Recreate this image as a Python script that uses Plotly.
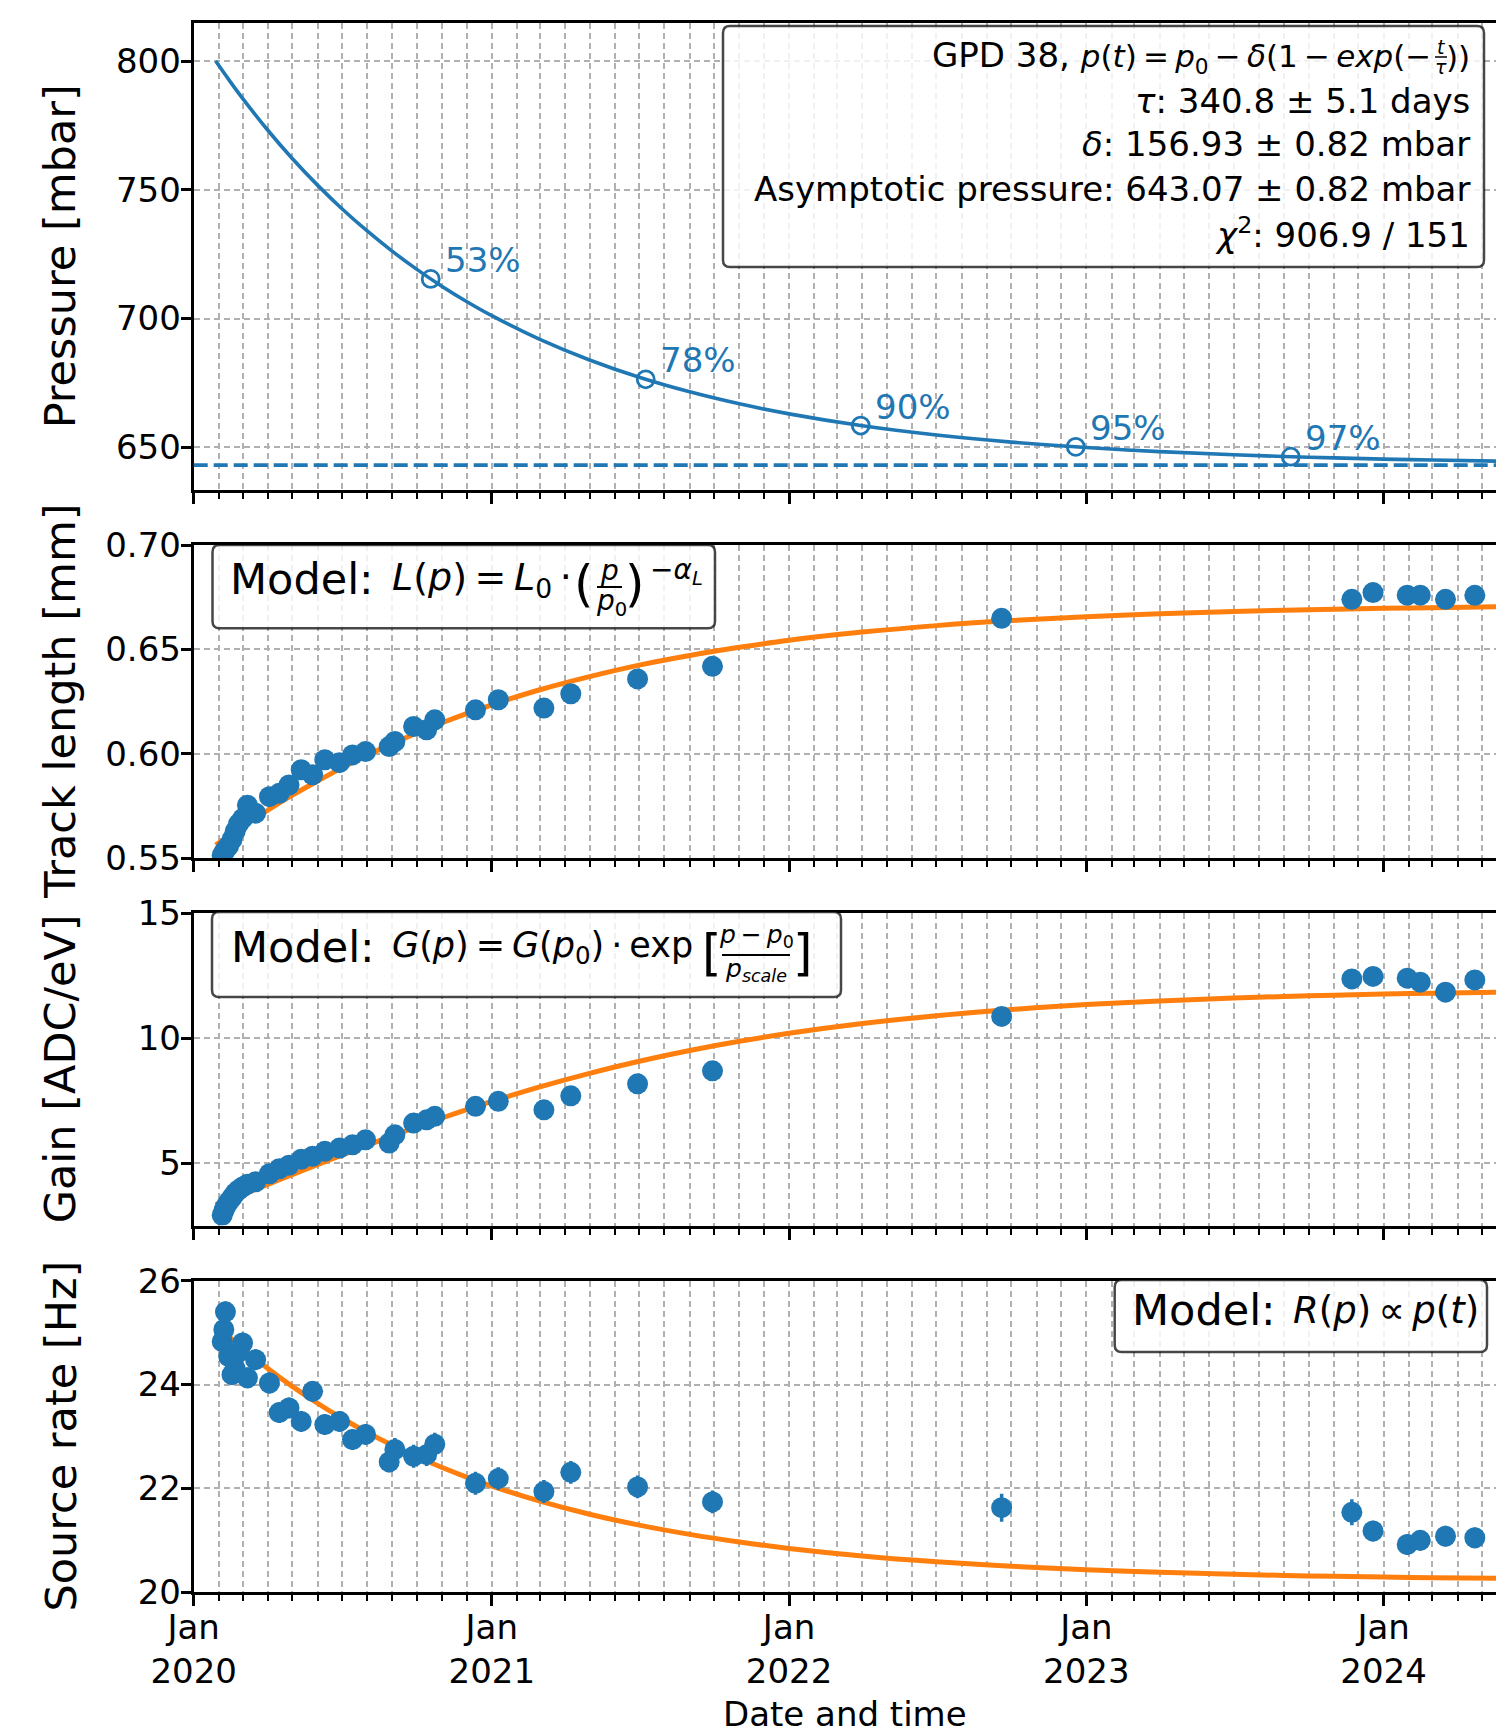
import plotly.graph_objects as go

# ---------------- data ----------------
x_range = ["2020-01-01", "2024-05-18"]
year_ticks = ["2020-01-01", "2021-01-01", "2022-01-01", "2023-01-01", "2024-01-01"]
year_tick_text = ["Jan<br>2020", "Jan<br>2021", "Jan<br>2022", "Jan<br>2023", "Jan<br>2024"]

# fitted model curves, sampled along the time axis
curve_dates = ["2020-01-28", "2020-02-15", "2020-03-01", "2020-04-01", "2020-05-01", "2020-06-01",
               "2020-07-01", "2020-08-01", "2020-09-01", "2020-10-01", "2020-11-01", "2020-12-01",
               "2021-01-01", "2021-03-01", "2021-05-01", "2021-07-01", "2021-09-01", "2021-11-01",
               "2022-01-01", "2022-04-01", "2022-07-01", "2022-10-01", "2023-01-01", "2023-04-01",
               "2023-07-01", "2023-10-01", "2024-01-01", "2024-03-01", "2024-05-20"]
pressure_fit = [800.00, 791.93, 785.52, 773.13, 762.17, 751.82, 742.65, 734.00, 726.09, 719.09,
                712.48, 706.63, 701.11, 691.88, 683.88, 677.19, 671.52, 666.86, 662.96, 658.34,
                654.76, 652.00, 649.88, 648.30, 647.08, 646.13, 645.41, 645.03, 644.62]
length_fit = [0.5564, 0.5613, 0.5652, 0.5730, 0.5802, 0.5870, 0.5933, 0.5993, 0.6049, 0.6100,
              0.6149, 0.6193, 0.6235, 0.6307, 0.6370, 0.6425, 0.6471, 0.6510, 0.6544, 0.6583,
              0.6614, 0.6638, 0.6657, 0.6671, 0.6682, 0.6690, 0.6697, 0.6700, 0.6704]
gain_fit = [3.330, 3.557, 3.748, 4.147, 4.535, 4.935, 5.318, 5.707, 6.088, 6.446,
            6.803, 7.136, 7.465, 8.049, 8.592, 9.075, 9.505, 9.873, 10.193, 10.584,
            10.898, 11.147, 11.341, 11.488, 11.603, 11.694, 11.763, 11.799, 11.839]
rate_fit = [25.154, 24.901, 24.699, 24.310, 23.965, 23.640, 23.351, 23.079, 22.830, 22.610,
            22.403, 22.219, 22.045, 21.755, 21.503, 21.293, 21.115, 20.968, 20.845, 20.700,
            20.588, 20.501, 20.434, 20.385, 20.346, 20.316, 20.294, 20.282, 20.269]
asymptotic_pressure = 643.07

marker_dates = ["2020-10-18", "2021-07-09", "2022-03-30", "2022-12-19", "2023-09-09"]
marker_pressure = [715.40, 676.40, 658.43, 650.15, 646.33]
marker_labels = ["53%", "78%", "90%", "95%", "97%"]

# measurements
run_dates = ["2020-02-05", "2020-02-07", "2020-02-09", "2020-02-13", "2020-02-17", "2020-02-21",
             "2020-02-25", "2020-03-01", "2020-03-07", "2020-03-17", "2020-04-03", "2020-04-15",
             "2020-04-27", "2020-05-12", "2020-05-26", "2020-06-10", "2020-06-28", "2020-07-14",
             "2020-07-30", "2020-08-28", "2020-09-04", "2020-09-27", "2020-10-13", "2020-10-23",
             "2020-12-12", "2021-01-09", "2021-03-06", "2021-04-08", "2021-06-29", "2021-09-29",
             "2022-09-19", "2023-11-23", "2023-12-19", "2024-01-30", "2024-02-15", "2024-03-17",
             "2024-04-22"]
track_length = [0.5515, 0.5528, 0.5540, 0.5560, 0.5590, 0.5630, 0.5665, 0.5690, 0.5754, 0.5716,
                0.5795, 0.5811, 0.5851, 0.5924, 0.5900, 0.5972, 0.5958, 0.5995, 0.6011, 0.6035,
                0.6059, 0.6131, 0.6115, 0.6163, 0.6211, 0.6259, 0.6219, 0.6288, 0.6359, 0.6419,
                0.6649, 0.6740, 0.6772, 0.6760, 0.6760, 0.6740, 0.6759]
gain = [2.91, 3.10, 3.24, 3.45, 3.62, 3.80, 3.92, 4.04, 4.15, 4.25,
        4.57, 4.77, 4.91, 5.15, 5.27, 5.47, 5.60, 5.73, 5.93, 5.80,
        6.13, 6.60, 6.73, 6.87, 7.27, 7.47, 7.13, 7.69, 8.17, 8.69,
        10.87, 12.37, 12.47, 12.40, 12.24, 11.84, 12.33]
source_rate = [24.83, 25.06, 25.40, 24.54, 24.19, 24.30, 24.62, 24.80, 24.13, 24.48,
               24.03, 23.46, 23.55, 23.29, 23.87, 23.23, 23.29, 22.94, 23.04, 22.51,
               22.75, 22.62, 22.65, 22.85, 22.10, 22.19, 21.94, 22.31, 22.03, 21.74,
               21.63, 21.54, 21.18, 20.92, 21.00, 21.08, 21.05]
source_rate_err = [0.20, 0.20, 0.20, 0.20, 0.20, 0.20, 0.20, 0.20, 0.20, 0.20,
                   0.20, 0.20, 0.20, 0.20, 0.20, 0.20, 0.20, 0.20, 0.20, 0.20,
                   0.22, 0.22, 0.22, 0.22, 0.22, 0.22, 0.22, 0.22, 0.22, 0.22,
                   0.27, 0.25, 0.20, 0.20, 0.20, 0.20, 0.20]

y_titles = ["Pressure [mbar]", "Track length [mm]", "Gain [ADC/eV]", "Source rate [Hz]"]
y_ranges = [[633.4, 814.9], [0.55, 0.70], [2.5, 15], [20, 26]]
y_tickvals = [[650, 700, 750, 800], [0.55, 0.60, 0.65, 0.70], [5, 10, 15], [20, 22, 24, 26]]
y_ticktext = [["650", "700", "750", "800"], ["0.55", "0.60", "0.65", "0.70"],
              ["5", "10", "15"], ["20", "22", "24", "26"]]

# ---------------- styling / layout ----------------
W, H = 1496, 1736
BLUE = "#1f77b4"
ORANGE = "#ff7f0e"
FONT = "DejaVu Sans"
GRID = "#b0b0b0"
TICK_FS = 34
LABEL_FS = 43
left_px = 193.7
panels_px = [(22.7, 490.0), (545.0, 858.3), (913.2, 1225.5), (1280.7, 1592.3)]


def px_x(x):
    return x / W


def px_y(y):
    return 1 - y / H


fig = go.Figure()

# panel 1
fig.add_trace(go.Scatter(x=curve_dates, y=pressure_fit, mode="lines",
                         line=dict(color=BLUE, width=3.6, shape="spline"),
                         xaxis="x", yaxis="y", showlegend=False))
fig.add_trace(go.Scatter(x=marker_dates, y=marker_pressure, mode="markers",
                         marker=dict(symbol="circle-open", size=17, color=BLUE,
                                     line=dict(color=BLUE, width=2.8)),
                         xaxis="x", yaxis="y", showlegend=False))
fig.add_shape(type="line", xref="x domain", yref="y", x0=0, x1=1,
              y0=asymptotic_pressure, y1=asymptotic_pressure,
              line=dict(color=BLUE, width=3.6, dash="14px,6px"), layer="above")

# panels 2-4
for i, (fit, meas) in enumerate([(length_fit, track_length), (gain_fit, gain), (rate_fit, source_rate)]):
    ax = str(i + 2)
    fig.add_trace(go.Scatter(x=curve_dates, y=fit, mode="lines",
                             line=dict(color=ORANGE, width=5, shape="spline"),
                             xaxis="x" + ax, yaxis="y" + ax, showlegend=False))
    err = None
    if i == 2:
        err = dict(type="data", array=source_rate_err, visible=True, thickness=3.5, width=0, color=BLUE)
    fig.add_trace(go.Scatter(x=run_dates, y=meas, mode="markers",
                             marker=dict(size=21, color=BLUE, line=dict(width=0)),
                             error_y=err,
                             xaxis="x" + ax, yaxis="y" + ax, showlegend=False))

layout = dict(width=W, height=H, margin=dict(l=0, r=0, t=0, b=0, autoexpand=False),
              paper_bgcolor="white", plot_bgcolor="white",
              font=dict(family=FONT, color="black", size=TICK_FS), showlegend=False)

for i, (top, bot) in enumerate(panels_px):
    sfx = "" if i == 0 else str(i + 1)
    last = (i == 3)
    layout["xaxis" + sfx] = dict(
        domain=[px_x(left_px), 1.0], range=x_range, type="date", anchor="y" + sfx,
        automargin=False,
        showline=True, linecolor="black", linewidth=3, mirror=True,
        ticks="outside", ticklen=11, tickwidth=2.5, tickcolor="black",
        tickmode="array", tickvals=year_ticks, ticktext=year_tick_text,
        showticklabels=last, ticklabelstandoff=-8,
        tickfont=dict(family=FONT, size=TICK_FS, color="black"),
        showgrid=True, gridcolor=GRID, gridwidth=1.6, griddash="6px,4px", zeroline=False,
        minor=dict(dtick="M1", tick0="2020-01-01", ticks="outside", ticklen=6, tickwidth=2,
                   tickcolor="black", showgrid=True, gridcolor=GRID, gridwidth=1.6,
                   griddash="6px,4px"),
    )
    layout["yaxis" + sfx] = dict(
        domain=[px_y(bot), px_y(top)], range=y_ranges[i], anchor="x" + sfx,
        automargin=False,
        showline=True, linecolor="black", linewidth=3, mirror=False,
        ticks="outside", ticklen=10, tickwidth=2.5, tickcolor="black",
        tickmode="array", tickvals=y_tickvals[i], ticktext=y_ticktext[i],
        ticklabelstandoff=-7,
        tickfont=dict(family=FONT, size=TICK_FS, color="black"),
        showgrid=True, gridcolor=GRID, gridwidth=1.6, griddash="6px,4px", zeroline=False,
    )

fig.update_layout(**layout)

annotations = []


def label(text, x, y, size, xanchor="left", color="black", **kw):
    annotations.append(dict(text=text, x=px_x(x), y=px_y(y), xref="paper", yref="paper",
                            showarrow=False, xanchor=xanchor, yanchor="middle",
                            font=dict(family=FONT, size=size, color=color), **kw))


# y-axis titles
for i, (top, bot) in enumerate(panels_px):
    label(y_titles[i], 60, (top + bot) / 2, LABEL_FS, xanchor="center", textangle=-90)
# x-axis title
label("Date and time", 845, 1714, TICK_FS, xanchor="center")
# percentage labels on the pressure curve
for d, p, lab in zip(marker_dates, marker_pressure, marker_labels):
    annotations.append(dict(text=lab, x=d, y=p, xref="x", yref="y", showarrow=False,
                            xanchor="left", yanchor="middle", xshift=12, yshift=19,
                            font=dict(family=FONT, size=TICK_FS, color=BLUE)))


def rounded_box(x0, y0, x1, y1, r=7):
    X = px_x
    Y = px_y
    path = (f"M {X(x0 + r)},{Y(y0)} L {X(x1 - r)},{Y(y0)} Q {X(x1)},{Y(y0)} {X(x1)},{Y(y0 + r)} "
            f"L {X(x1)},{Y(y1 - r)} Q {X(x1)},{Y(y1)} {X(x1 - r)},{Y(y1)} "
            f"L {X(x0 + r)},{Y(y1)} Q {X(x0)},{Y(y1)} {X(x0)},{Y(y1 - r)} "
            f"L {X(x0)},{Y(y0 + r)} Q {X(x0)},{Y(y0)} {X(x0 + r)},{Y(y0)} Z")
    fig.add_shape(type="path", path=path, xref="paper", yref="paper",
                  fillcolor="rgba(255,255,255,0.82)", line=dict(color="rgba(0,0,0,0.72)", width=2.5),
                  layer="above")


def frac_bar(x0, x1, y, w=2):
    fig.add_shape(type="line", xref="paper", yref="paper", x0=px_x(x0), x1=px_x(x1),
                  y0=px_y(y), y1=px_y(y), line=dict(color="black", width=w), layer="above")


# ---- fit-result box (panel 1) ----
rounded_box(723, 26, 1484, 267)
label("GPD 38, <span style=\"font-size:31px\"><i>p</i>(<i>t</i>)\u2009=\u2009<i>p</i><sub>0</sub>\u2009\u2212\u2009"
      "<i>δ</i>(1\u2009\u2212\u2009<i>exp</i>(\u2212</span>",
      1433, 57, TICK_FS, xanchor="right")
label("<i>t</i>", 1441, 47, 19, xanchor="center")
frac_bar(1435, 1447, 57, 1.5)
label("<i>τ</i>", 1441, 67, 19, xanchor="center")
label("))", 1472, 57, 31, xanchor="right")
label("<i>τ</i>: 340.8 ± 5.1 days", 1472, 100.5, TICK_FS, xanchor="right")
label("<i>δ</i>: 156.93 ± 0.82 mbar", 1472, 144.5, TICK_FS, xanchor="right")
label("Asymptotic pressure: 643.07 ± 0.82 mbar", 1472, 188.5, TICK_FS, xanchor="right")
label("<i>χ</i><sup>2</sup>: 906.9 / 151", 1472, 233, TICK_FS, xanchor="right")

# ---- model box, track length ----
rounded_box(212.5, 545, 715, 628.3)
label("Model:", 228, 579, LABEL_FS)
label("<i>L</i>(<i>p</i>)\u2009=\u2009<i>L</i><sub>0</sub>\u2009·", 390, 579, 38)
label("(", 584, 584, 50, xanchor="center")
label("<i>p</i>", 609, 570, 28, xanchor="center")
frac_bar(597, 622, 587)
label("<i>p</i><sub>0</sub>", 611, 602, 28, xanchor="center")
label(")", 635, 584, 50, xanchor="center")
label("\u2212<i>α</i><sub><i>L</i></sub>", 648, 572, 28)

# ---- model box, gain ----
rounded_box(212, 912, 841, 997)
label("Model:", 229, 947, LABEL_FS)
label("<i>G</i>(<i>p</i>)\u2009=\u2009<i>G</i>(<i>p</i><sub>0</sub>)\u2009·\u2009exp", 390, 947, 35)
label("[", 712, 953, 50, xanchor="center")
label("<i>p</i>\u2009\u2212\u2009<i>p</i><sub>0</sub>", 756, 936, 25, xanchor="center")
frac_bar(722, 790, 955)
label("<i>p</i><sub><i>scale</i></sub>", 756, 970, 25, xanchor="center")
label("]", 803, 953, 50, xanchor="center")

# ---- model box, source rate ----
rounded_box(1114.7, 1280, 1487, 1352)
label("Model:", 1130, 1310, LABEL_FS)
label("<i>R</i>(<i>p</i>)\u2009∝\u2009<i>p</i>(<i>t</i>)", 1291, 1310, 37)

fig.update_layout(annotations=annotations)

fig.write_html("out.html", config={"displayModeBar": False},
               post_script="document.body.style.margin='0';document.body.style.overflow='hidden';")
